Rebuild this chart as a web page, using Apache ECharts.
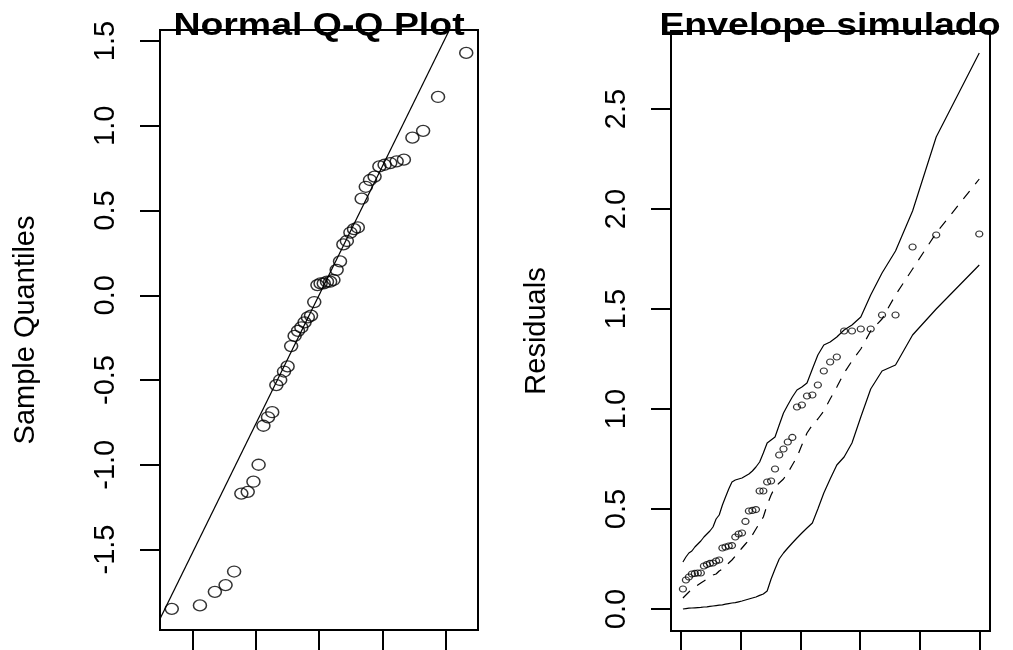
<!DOCTYPE html>
<html>
<head>
<meta charset="utf-8">
<script src="https://cdn.jsdelivr.net/npm/echarts@6/dist/echarts.min.js"></script>
<style>
  html, body { margin: 0; padding: 0; background: #fff; }
  #chart { width: 1013px; height: 650px; }
</style>
</head>
<body>
<div id="chart"></div>
<script>
// left panel: normal Q-Q plot (50 points)
var qqTheo = [-2.326, -1.881, -1.645, -1.476, -1.341, -1.227, -1.126, -1.036, -0.954, -0.878,
  -0.806, -0.739, -0.674, -0.613, -0.553, -0.496, -0.440, -0.385, -0.332, -0.279,
  -0.228, -0.176, -0.126, -0.075, -0.025, 0.025, 0.075, 0.126, 0.176, 0.228,
  0.279, 0.332, 0.385, 0.440, 0.496, 0.553, 0.613, 0.674, 0.739, 0.806,
  0.878, 0.954, 1.036, 1.126, 1.227, 1.341, 1.476, 1.645, 1.881, 2.326];
var qqSample = [-1.85, -1.83, -1.75, -1.71, -1.63, -1.17, -1.16, -1.10, -1.00, -0.77,
  -0.72, -0.69, -0.53, -0.50, -0.45, -0.42, -0.30, -0.24, -0.21, -0.19,
  -0.16, -0.13, -0.12, -0.04, 0.06, 0.07, 0.07, 0.08, 0.08, 0.09,
  0.15, 0.20, 0.30, 0.32, 0.37, 0.39, 0.40, 0.57, 0.64, 0.68,
  0.70, 0.76, 0.77, 0.78, 0.79, 0.80, 0.93, 0.97, 1.17, 1.43];
var qqLineX = [-2.6, 2.6];
var qqLineY = [-1.976, 1.976];
var qqTicksX = [-2, -1, 0, 1, 2];
var qqTicksY = [-1.5, -1.0, -0.5, 0.0, 0.5, 1.0, 1.5];

// right panel: half-normal plot with simulated envelope
var halfNormQ = [0.016, 0.041, 0.066, 0.091, 0.116, 0.141, 0.166, 0.192, 0.217, 0.242,
  0.268, 0.294, 0.320, 0.347, 0.373, 0.400, 0.427, 0.455, 0.483, 0.511,
  0.540, 0.569, 0.598, 0.628, 0.659, 0.690, 0.722, 0.755, 0.788, 0.823,
  0.859, 0.895, 0.933, 0.972, 1.013, 1.056, 1.101, 1.147, 1.197, 1.250,
  1.306, 1.367, 1.433, 1.507, 1.590, 1.685, 1.798, 1.941, 2.139, 2.500];
var residuals = [0.10, 0.145, 0.16, 0.175, 0.178, 0.18, 0.18, 0.215, 0.222, 0.228,
  0.23, 0.24, 0.245, 0.305, 0.31, 0.315, 0.317, 0.36, 0.375, 0.38,
  0.438, 0.49, 0.493, 0.497, 0.59, 0.59, 0.635, 0.64, 0.70, 0.77,
  0.80, 0.835, 0.858, 1.01, 1.02, 1.065, 1.07, 1.12, 1.19, 1.235,
  1.26, 1.39, 1.39, 1.40, 1.40, 1.47, 1.47, 1.81, 1.87, 1.875];
var envUpper = [0.235, 0.26, 0.28, 0.29, 0.31, 0.325, 0.34, 0.36, 0.375, 0.39,
  0.41, 0.45, 0.47, 0.52, 0.56, 0.60, 0.635, 0.645, 0.65, 0.655,
  0.665, 0.675, 0.69, 0.71, 0.735, 0.78, 0.83, 0.845, 0.86, 0.92,
  0.98, 1.02, 1.06, 1.095, 1.11, 1.13, 1.20, 1.27, 1.32, 1.335,
  1.36, 1.395, 1.42, 1.46, 1.57, 1.68, 1.79, 1.99, 2.36, 2.78];
var envMean = [0.055, 0.07, 0.085, 0.10, 0.11, 0.12, 0.13, 0.14, 0.15, 0.16,
  0.17, 0.175, 0.19, 0.20, 0.215, 0.23, 0.245, 0.265, 0.285, 0.305,
  0.325, 0.345, 0.37, 0.40, 0.43, 0.46, 0.52, 0.57, 0.61, 0.63,
  0.65, 0.68, 0.72, 0.76, 0.82, 0.88, 0.92, 0.95, 0.99, 1.05,
  1.11, 1.18, 1.24, 1.30, 1.39, 1.45, 1.57, 1.70, 1.88, 2.15];
var envLower = [0.0, 0.002, 0.004, 0.005, 0.006, 0.007, 0.008, 0.01, 0.011, 0.013,
  0.015, 0.017, 0.019, 0.021, 0.024, 0.027, 0.03, 0.032, 0.036, 0.04,
  0.045, 0.05, 0.055, 0.06, 0.068, 0.075, 0.09, 0.15, 0.2, 0.25,
  0.28, 0.305, 0.33, 0.355, 0.38, 0.405, 0.43, 0.50, 0.58, 0.65,
  0.72, 0.76, 0.83, 0.96, 1.10, 1.19, 1.22, 1.37, 1.50, 1.72];
var envTicksX = [0, 0.5, 1.0, 1.5, 2.0, 2.5];
var envTicksY = [0, 0.5, 1.0, 1.5, 2.0, 2.5];

function zip(xs, ys) {
  return xs.map(function (x, i) { return [x, ys[i]]; });
}

var labelFont = '"Liberation Sans", Arial, sans-serif';
var tickStyle = { color: '#000', width: 2 };

function xAxisOf(grid, min, max, ticks) {
  return {
    type: 'value', gridIndex: grid, min: min, max: max,
    axisLine: { show: false, onZero: false },
    splitLine: { show: false },
    axisTick: { show: true, customValues: ticks, length: 20, lineStyle: tickStyle },
    axisLabel: { show: false }
  };
}

function yAxisOf(grid, min, max, ticks, name) {
  return {
    type: 'value', gridIndex: grid, min: min, max: max,
    name: name, nameLocation: 'middle', nameRotate: 90, nameGap: 120,
    nameTextStyle: { fontFamily: labelFont, fontSize: 29, color: '#000' },
    axisLine: { show: false, onZero: false },
    splitLine: { show: false },
    axisTick: { show: true, customValues: ticks, length: 20, lineStyle: tickStyle },
    axisLabel: {
      customValues: ticks, rotate: 90, margin: 40,
      fontFamily: labelFont, fontSize: 29, color: '#000',
      formatter: function (v) { return v.toFixed(1); }
    }
  };
}

var chart = echarts.init(document.getElementById('chart'));
chart.setOption({
  animation: false,
  backgroundColor: '#fff',
  grid: [
    { left: 160, top: 30, width: 318, height: 600, show: true, borderColor: '#000', borderWidth: 2, backgroundColor: 'transparent' },
    { left: 671, top: 31, width: 319, height: 600, show: true, borderColor: '#000', borderWidth: 2, backgroundColor: 'transparent' }
  ],
  xAxis: [
    xAxisOf(0, -2.512, 2.512, qqTicksX),
    xAxisOf(1, -0.084, 2.59, envTicksX)
  ],
  yAxis: [
    yAxisOf(0, -1.975, 1.565, qqTicksY, 'Sample Quantiles'),
    yAxisOf(1, -0.11, 2.89, envTicksY, 'Residuals')
  ],
  graphic: [
    {
      type: 'text', x: 319, y: 42, scaleX: 1.17, silent: true,
      style: { text: 'Normal Q-Q Plot', font: 'bold 32px "Liberation Sans", Arial, sans-serif',
               fill: '#000', align: 'center', verticalAlign: 'bottom' }
    },
    {
      type: 'text', x: 830, y: 42, scaleX: 1.17, silent: true,
      style: { text: 'Envelope simulado', font: 'bold 32px "Liberation Sans", Arial, sans-serif',
               fill: '#000', align: 'center', verticalAlign: 'bottom' }
    }
  ],
  series: [
    {
      type: 'scatter', xAxisIndex: 0, yAxisIndex: 0, silent: true,
      data: zip(qqTheo, qqSample),
      symbol: 'circle', symbolSize: [13, 11],
      itemStyle: { color: 'transparent', borderColor: '#000', borderWidth: 1.4 }
    },
    {
      type: 'line', xAxisIndex: 0, yAxisIndex: 0, silent: true, clip: true,
      data: zip(qqLineX, qqLineY), showSymbol: false,
      lineStyle: { color: '#000', width: 1.2 }
    },
    {
      type: 'line', xAxisIndex: 1, yAxisIndex: 1, silent: true,
      data: zip(halfNormQ, envUpper), showSymbol: false,
      lineStyle: { color: '#000', width: 1.2 }
    },
    {
      type: 'line', xAxisIndex: 1, yAxisIndex: 1, silent: true,
      data: zip(halfNormQ, envLower), showSymbol: false,
      lineStyle: { color: '#000', width: 1.2 }
    },
    {
      type: 'line', xAxisIndex: 1, yAxisIndex: 1, silent: true,
      data: zip(halfNormQ, envMean), showSymbol: false,
      lineStyle: { color: '#000', width: 1.2, type: [10, 9] }
    },
    {
      type: 'scatter', xAxisIndex: 1, yAxisIndex: 1, silent: true,
      data: zip(halfNormQ, residuals),
      symbol: 'circle', symbolSize: [7, 6],
      itemStyle: { color: 'transparent', borderColor: '#000', borderWidth: 1.2 }
    }
  ]
});
</script>
</body>
</html>
